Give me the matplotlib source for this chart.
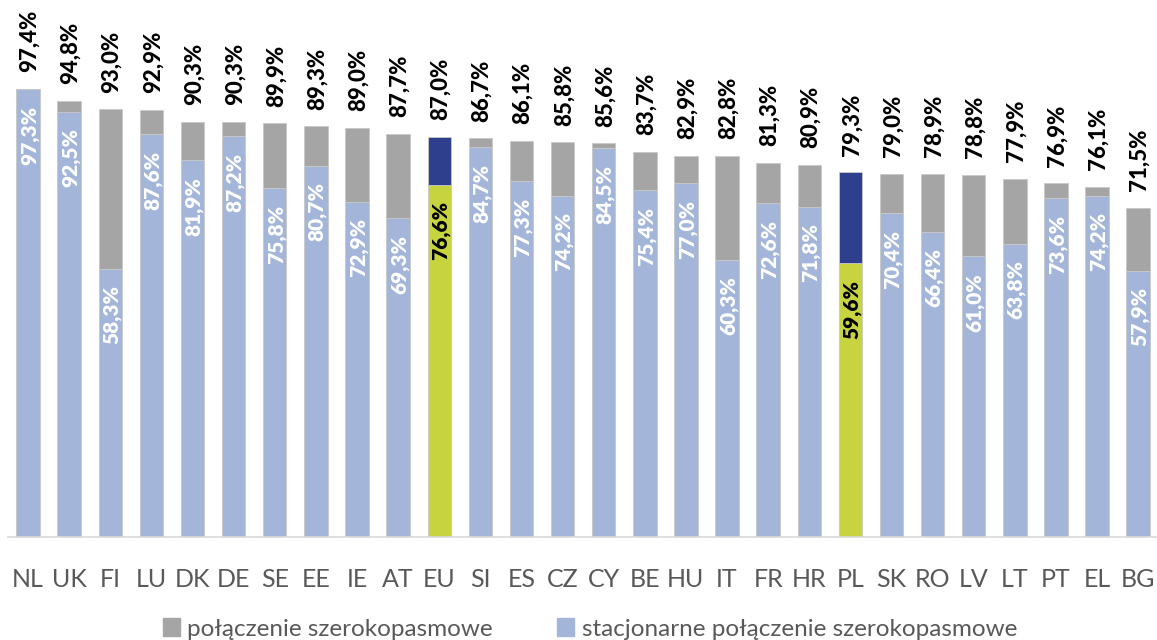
import matplotlib
matplotlib.use("Agg")
import matplotlib.pyplot as plt
from matplotlib.patches import Patch

# Dane: odsetek gospodarstw domowych z dostępem do internetu
countries = ["NL", "UK", "FI", "LU", "DK", "DE", "SE", "EE", "IE", "AT",
             "EU", "SI", "ES", "CZ", "CY", "BE", "HU", "IT", "FR", "HR",
             "PL", "SK", "RO", "LV", "LT", "PT", "EL", "BG"]
total = [97.4, 94.8, 93.0, 92.9, 90.3, 90.3, 89.9, 89.3, 89.0, 87.7,
         87.0, 86.7, 86.1, 85.8, 85.6, 83.7, 82.9, 82.8, 81.3, 80.9,
         79.3, 79.0, 78.9, 78.8, 77.9, 76.9, 76.1, 71.5]
fixed = [97.3, 92.5, 58.3, 87.6, 81.9, 87.2, 75.8, 80.7, 72.9, 69.3,
         76.6, 84.7, 77.3, 74.2, 84.5, 75.4, 77.0, 60.3, 72.6, 71.8,
         59.6, 70.4, 66.4, 61.0, 63.8, 73.6, 74.2, 57.9]
highlight = ["EU", "PL"]

plt.rcParams["font.family"] = ["Lato", "DejaVu Sans"]

GRAY = "#A5A5A5"
BLUE = "#A3B5D9"
DARK = "#2E3F8E"
LIME = "#C7D43F"


def fmt(v):
    return ("%.1f%%" % v).replace(".", ",")


def main():
    fig = plt.figure(figsize=(11.57, 6.4), dpi=100)
    ax = fig.add_axes([0.0065, 1 - 537 / 640, 0.995, 460 / 640])

    x = list(range(len(countries)))
    rest = [t - f for t, f in zip(total, fixed)]
    bottom_colors = [LIME if c in highlight else BLUE for c in countries]
    top_colors = [DARK if c in highlight else GRAY for c in countries]

    ax.bar(x, fixed, width=0.57, color=bottom_colors,
           edgecolor="#C8C8C8", linewidth=0.6)
    ax.bar(x, rest, bottom=fixed, width=0.57, color=top_colors,
           edgecolor="#C8C8C8", linewidth=0.6)

    for i, c in enumerate(countries):
        ax.annotate(fmt(total[i]), (i, total[i]), xytext=(1, 12),
                    textcoords="offset points", rotation=90,
                    ha="center", va="bottom", fontsize=16,
                    fontweight="black", color="black", annotation_clip=False)
        inner = "black" if c in highlight else "white"
        ax.annotate(fmt(fixed[i]), (i, fixed[i]), xytext=(1, -12),
                    textcoords="offset points", rotation=90,
                    ha="center", va="top", fontsize=15,
                    fontweight="heavy", color=inner)

    ax.set_xlim(-0.5, len(countries) - 0.5)
    ax.set_ylim(0, 100)
    ax.set_xticks(x)
    ax.set_xticklabels(countries, fontsize=18, color="#595959")
    ax.tick_params(axis="x", length=0, pad=22)
    ax.set_yticks([])
    for side in ["top", "right", "left"]:
        ax.spines[side].set_visible(False)
    ax.spines["bottom"].set_color("#D9D9D9")
    ax.spines["bottom"].set_linewidth(1.2)

    handles = [Patch(color=GRAY), Patch(color=BLUE)]
    labels = ["połączenie szerokopasmowe",
              "stacjonarne połączenie szerokopasmowe"]
    leg = fig.legend(handles, labels, loc="center", ncol=2,
                     bbox_to_anchor=(0.51, 1 - 629 / 640), frameon=False,
                     fontsize=17.5, handlelength=0.7, handleheight=0.7,
                     handletextpad=0.3, columnspacing=2.65)
    for t in leg.get_texts():
        t.set_color("#595959")

    fig.savefig("out.png", dpi=100)
    plt.close(fig)


if __name__ == "__main__":
    main()
